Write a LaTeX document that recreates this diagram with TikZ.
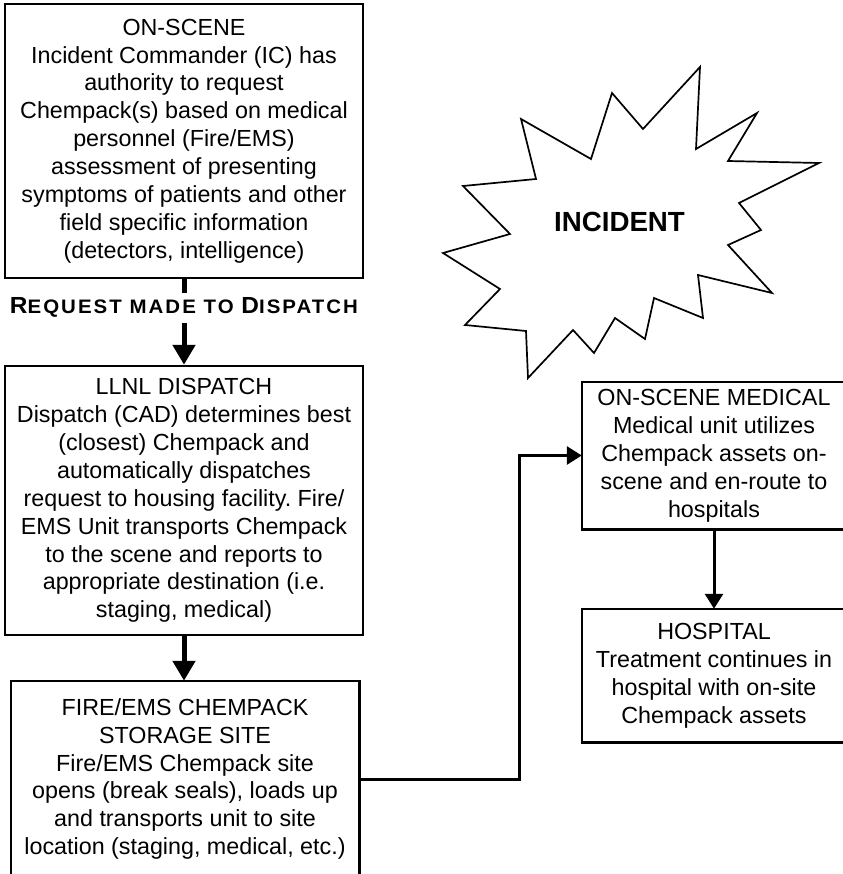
\documentclass[tikz,border=0pt]{standalone}
\usepackage{fontspec}
\setmainfont{Liberation Sans}
\newfontfamily\reqfont[LetterSpace=10]{Liberation Sans}
\usetikzlibrary{arrows.meta,positioning,calc}
\tikzset{box/.style={draw=black,line width=2.5pt,align=center,inner sep=0pt,font=\fontsize{23.3}{27.9}\selectfont},openbox/.style={box,draw=none},edge/.style={line width=2.5pt},bigarr/.style={-{Triangle[length=20pt,width=22pt]},line width=5pt},arr/.style={-{Triangle[length=15pt,width=18pt]},line width=3pt},req/.style={fill=white,inner xsep=0pt,inner ysep=5pt,font=\reqfont\bfseries\fontsize{19.5}{22}\selectfont}}
\newcommand{\reqcap}[1]{{\fontsize{23.3}{22}\selectfont #1}}
\frenchspacing

\begin{document}
\begin{tikzpicture}[x=1pt,y=-1pt]
\useasboundingbox (0,0) rectangle (842,874);
\node[box,minimum width=358,minimum height=274] (scene) at (184,141) {ON-SCENE\\Incident Commander (IC) has\\authority to request\\Chempack(s) based on medical\\personnel (Fire/EMS)\\assessment of presenting\\symptoms of patients and other\\field specific information\\(detectors, intelligence)};
\node[box,minimum width=358,minimum height=269] (llnl) at (184,500.5) {LLNL DISPATCH\\Dispatch (CAD) determines best\\(closest) Chempack and\\automatically dispatches\\request to housing facility. Fire/\\EMS Unit transports Chempack\\to the scene and reports to\\appropriate destination (i.e.\\staging, medical)};
\node[openbox,minimum width=346,minimum height=194] (fire) at (185,779) {FIRE/EMS CHEMPACK\\STORAGE SITE\\Fire/EMS Chempack site\\opens (break seals), loads up\\and transports unit to site\\location (staging, medical, etc.)};
\draw[edge] ([yshift=-30pt]fire.south west) -- (fire.north west) -- (fire.north east) -- ([yshift=-30pt]fire.south east);
% right-hand boxes run off the page edge
\node[openbox,minimum width=262,minimum height=145] (med) at (714,455.5) {ON-SCENE MEDICAL\\Medical unit utilizes\\Chempack assets on-\\scene and en-route to\\hospitals};
\node[openbox,minimum width=262,minimum height=131] (hosp) at (714,675.5) {HOSPITAL\\Treatment continues in\\hospital with on-site\\Chempack assets};
\draw[edge] ([xshift=30pt]med.north east) -- (med.north west) -- (med.south west) -- ([xshift=30pt]med.south east);
\draw[edge] ([xshift=30pt]hosp.north east) -- (hosp.north west) -- (hosp.south west) -- ([xshift=30pt]hosp.south east);
% the incident burst
\draw[line width=1.7pt,line join=miter] (700,67) -- (696,149) -- (757,113) -- (728,161) -- (819,163) -- (739,203) -- (761,230) -- (728,245) -- (772,293) -- (698,275) -- (703,318) -- (654,298) -- (645,339) -- (615,318) -- (594,353) -- (573,330) -- (528,378) -- (526,331) -- (465,325) -- (500,289) -- (443,253) -- (510,234) -- (463,186) -- (536,179) -- (521,119) -- (591,159) -- (612,93) -- (643,129) -- cycle;
\node[font=\bfseries\fontsize{27.7}{30}\selectfont] (incident) at (619.5,222) {INCIDENT};
% connectors
\draw[bigarr] (scene.south) -- node[req,pos=.335] (reqlabel) {\resizebox{348pt}{\height}{\reqcap{R}EQUEST MADE TO \reqcap{D}ISPATCH}} (llnl.north);
\draw[bigarr] (llnl.south) -- (llnl.south |- fire.north);
\draw[arr] (fire.east) -| ([xshift=-62.5pt]med.west) -- (med.west);
\draw[arr] (med) -- (hosp);
\end{tikzpicture}
\end{document}
